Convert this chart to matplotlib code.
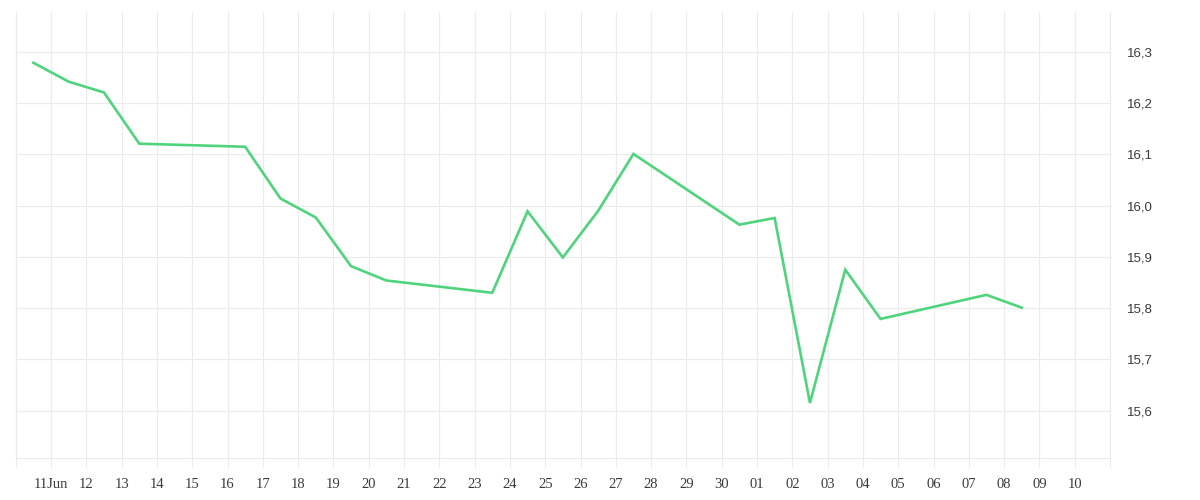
import numpy as np
import pandas as pd
import matplotlib
matplotlib.use("Agg")
import matplotlib.pyplot as plt
import matplotlib.dates as mdates
from matplotlib.ticker import FixedLocator, FuncFormatter

# data (trading days, Sun-Thu)
dates = ["2024-06-10", "2024-06-11", "2024-06-12", "2024-06-13",
         "2024-06-16", "2024-06-17", "2024-06-18", "2024-06-19", "2024-06-20",
         "2024-06-23", "2024-06-24", "2024-06-25", "2024-06-26", "2024-06-27",
         "2024-06-30", "2024-07-01", "2024-07-02", "2024-07-03", "2024-07-04",
         "2024-07-07", "2024-07-08"]
values = [16.279, 16.242, 16.221, 16.121,
          16.115, 16.014, 15.977, 15.882, 15.854,
          15.830, 15.989, 15.899, 15.990, 16.101,
          15.963, 15.976, 15.615, 15.875, 15.779,
          15.826, 15.801]

tick_days = pd.date_range("2024-06-10", "2024-07-11", freq="D")
tick_labels = [""] + ["11Jun"] + [d.strftime("%d") for d in tick_days[2:-1]] + [""]
y_ticks = [15.6, 15.7, 15.8, 15.9, 16.0, 16.1, 16.2, 16.3]

grid_col = "#ebebeb"
line_col = "#4fd47d"
text_col = "#3a3a3a"

x = pd.to_datetime(dates) + pd.Timedelta(hours=12)

fig = plt.figure(figsize=(12, 5), dpi=100)
ax = fig.add_axes([15.7/1200, 1-458.3/500, (1110-15.7)/1200, (458.3-12)/500])

ax.plot(x, values, color=line_col, lw=1.9, solid_joinstyle="miter", zorder=3)

ax.set_xlim(tick_days[0], tick_days[-1])
ax.set_ylim(15.507, 16.378)

ax.xaxis.set_major_locator(FixedLocator(mdates.date2num(tick_days)))
ax.set_xticklabels(tick_labels, family="Liberation Serif", fontsize=10.5, color=text_col)
ax.tick_params(axis="x", length=6.5, width=0.8, color=grid_col, pad=7.5)

ax.yaxis.tick_right()
ax.set_yticks(y_ticks)
ax.yaxis.set_major_formatter(FuncFormatter(lambda v, p: f"{v:.1f}".replace(".", ",")))
ax.tick_params(axis="y", length=0, pad=12.5, labelsize=9.5, labelcolor=text_col)
for t in ax.get_yticklabels():
    t.set_horizontalalignment("left")
    t.set_family("Liberation Sans")

ax.grid(True, color=grid_col, lw=0.8)
ax.set_axisbelow(True)
ax.spines["top"].set_visible(False)
for s in ["left", "right", "bottom"]:
    ax.spines[s].set_color(grid_col)
    ax.spines[s].set_linewidth(0.8)

fig.savefig("out.png", dpi=100)
